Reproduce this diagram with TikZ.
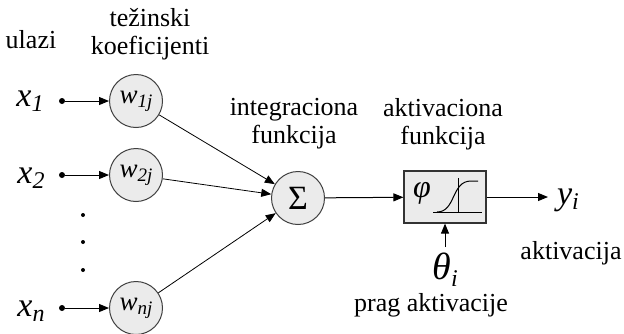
\documentclass[tikz,border=0pt]{standalone}
\usepackage{fontspec}
\setmainfont{Liberation Serif}
\usetikzlibrary{arrows.meta}
\begin{document}
\begin{tikzpicture}[x=0.5pt,y=-0.5pt,
  neuron/.style={circle,draw=black!75,fill=black!8,minimum size=26.5pt,inner sep=0pt,line width=0.5pt},
  lbl/.style={font=\fontsize{13}{14}\selectfont,align=center,inner sep=0pt},
  var/.style={font=\fontsize{17}{18}\selectfont\itshape,inner sep=0pt},
  wlbl/.style={font=\fontsize{13.5}{14}\selectfont\itshape},
  conn/.style={-{Triangle[length=5pt,width=4pt]},line width=0.5pt},
  link/.style={line width=0.4pt,-{Triangle[length=5pt,width=4pt]}},
  src/.style={circle,fill=black,minimum size=3pt,inner sep=0pt}
]
\useasboundingbox (0,0) rectangle (624,333);

% headings
\node[lbl] (ul) at (31,40) {ulazi};
\node[lbl] (tk) at (150,34) {težinski\\koeficijenti};
\node[lbl] (ig) at (294,124) {integraciona\\funkcija};
\node[lbl] (ak) at (443,124) {aktivaciona\\funkcija};

% inputs
\node[var] (x1) at (30,101) {x\raisebox{-0.35ex}{\fontsize{12}{12}\selectfont 1}};
\node[var] (x2) at (31,178) {x\raisebox{-0.35ex}{\fontsize{12}{12}\selectfont 2}};
\node[var] (xn) at (31,311) {x\raisebox{-0.35ex}{\fontsize{12}{12}\selectfont n}};
\node[src] (d1) at (62,101) {};
\node[src] (d2) at (62,175) {};
\node[src] (dn) at (62,308) {};

% weights
\node[neuron] (w1) at (136,101) {};
\node[wlbl] at (w1) {w\raisebox{-0.35ex}{\fontsize{9.5}{10}\selectfont 1j}};
\node[neuron] (w2) at (136,175) {};
\node[wlbl] at (w2) {w\raisebox{-0.35ex}{\fontsize{9.5}{10}\selectfont 2j}};
\node[neuron] (wn) at (136,308) {};
\node[wlbl] at (wn) {w\raisebox{-0.35ex}{\fontsize{9.5}{10}\selectfont nj}};

% vertical ellipsis
\foreach \yy/\nm in {215/e1,242/e2,270/e3}
  \node[circle,fill=black,minimum size=2pt,inner sep=0pt] (\nm) at (83,\yy) {};

% summation
\node[neuron] (sum) at (298,198) {\fontsize{17}{18}\selectfont Σ};

% activation block
\node[draw=black!80,fill=black!8,line width=0.6pt,minimum width=41pt,minimum height=26pt,inner sep=0pt] (act) at (445,197) {};
\node[font=\fontsize{16}{17}\selectfont\itshape,inner sep=0pt] (phi) at (422,193) {φ};
\draw[line width=0.5pt] (433,212) -- (482,212);
\draw[line width=0.5pt] (458,178) -- (458,213);
\draw[line width=0.5pt] (437,212) .. controls (456,212) and (451,181) .. (471,181) -- (478,181);

% output and threshold
\coordinate (yout) at (548,197);
\node[var] (yi) at (568,200) {y\raisebox{-0.35ex}{\fontsize{12}{12}\selectfont i}};
\node[lbl] (akt) at (571,253) {aktivacija};
\node[var,font=\fontsize{19}{20}\selectfont\itshape] (th) at (445,270) {θ\raisebox{-0.4ex}{\fontsize{12}{12}\selectfont i}};
\node[lbl] (pr) at (431,305) {prag aktivacije};

% connectors
\draw[conn] (d1) -- (w1);
\draw[conn] (d2) -- (w2);
\draw[conn] (dn) -- (wn);
\draw[link] (w1) -- (sum);
\draw[link] (w2) -- (sum);
\draw[link] (wn) -- (sum);
\draw[conn] (sum) -- (act);
\draw[conn] (act) -- (yout);
\draw[conn] (445,247) -- (act.south);
\end{tikzpicture}
\end{document}
